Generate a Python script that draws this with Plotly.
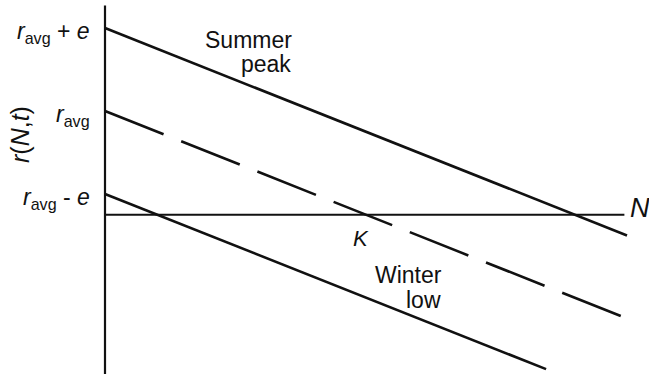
import plotly.graph_objects as go

# Per-capita growth rate r(N, t) against population size N:
# seasonal peak, average and seasonal low (parallel lines, shifted by e)
n_summer = [0.0, 2.0]
r_summer = [2.25, -0.25]
n_avg = [0.0, 2.0]
r_avg = [1.25, -1.25]
n_winter = [0.0, 1.69]
r_winter = [0.25, -1.86]

# axis extents
n_axis = [0.0, 1.99]
r_axis = [-1.92, 2.52]

# labels for the three intercepts
tick_vals = [2.25, 1.25, 0.25]
tick_text = [
    "<i>r</i><sub>avg</sub> + <i>e</i>",
    "<i>r</i><sub>avg</sub>",
    "<i>r</i><sub>avg</sub> - <i>e</i>",
]
K_value = 1.0

FONT = "Liberation Sans, Arial, Helvetica, sans-serif"
BLACK = "#111111"

fig = go.Figure()

# axes drawn as plain lines
fig.add_trace(go.Scatter(x=[0, 0], y=r_axis, mode="lines",
                         line=dict(color=BLACK, width=2.2), hoverinfo="skip"))
fig.add_trace(go.Scatter(x=n_axis, y=[0, 0], mode="lines",
                         line=dict(color=BLACK, width=2), hoverinfo="skip"))

fig.add_trace(go.Scatter(x=n_summer, y=r_summer, mode="lines",
                         line=dict(color=BLACK, width=2.6)))
fig.add_trace(go.Scatter(x=n_avg, y=r_avg, mode="lines",
                         line=dict(color=BLACK, width=2.6, dash="63px,19px")))
fig.add_trace(go.Scatter(x=n_winter, y=r_winter, mode="lines",
                         line=dict(color=BLACK, width=2.6)))

ann = []
for v, t in zip(tick_vals, tick_text):
    ann.append(dict(x=-0.05, y=v, xref="x", yref="y", text=t,
                    xanchor="right", yanchor="middle", yshift=-4,
                    showarrow=False, font=dict(size=23, family=FONT, color=BLACK)))

def label(text, xpx, ypx, size=23, anchor="right"):
    return dict(x=xpx, y=ypx, xref="paper", yref="paper", text=text,
                xanchor=anchor, yanchor="middle", showarrow=False,
                font=dict(size=size, family=FONT, color=BLACK))

W, H = 649, 374
def px(xp, yp):
    return xp / W, 1 - yp / H

sx, sy = px(294, 40)
ann.append(label("Summer", sx, sy))
sx, sy = px(293, 64)
ann.append(label("peak", sx, sy))
sx, sy = px(444, 275)
ann.append(label("Winter", sx, sy))
sx, sy = px(443, 300)
ann.append(label("low", sx, sy))
ann.append(dict(x=K_value, y=0, xref="x", yref="y", text="<i>K</i>",
                xanchor="center", yanchor="top", yshift=-9, xshift=-5,
                showarrow=False, font=dict(size=22, family=FONT, color=BLACK)))
ann.append(dict(x=n_axis[1], y=0, xref="x", yref="y", text="<i>N</i>",
                xanchor="left", yanchor="middle", xshift=4, yshift=7,
                showarrow=False, font=dict(size=27, family=FONT, color=BLACK)))
# vertical axis title
ann.append(dict(x=20 / W, y=1 - 135 / H, xref="paper", yref="paper",
                text="<i>r</i>(<i>N</i>,<i>t</i>)", textangle=-90,
                xanchor="center", yanchor="middle", showarrow=False,
                font=dict(size=25, family=FONT, color=BLACK)))

fig.update_layout(
    width=W, height=H,
    margin=dict(l=0, r=0, t=0, b=0),
    paper_bgcolor="white", plot_bgcolor="white",
    showlegend=False,
    annotations=ann,
    xaxis=dict(range=[-105 / 261, 544 / 261], visible=False, fixedrange=True),
    yaxis=dict(range=[-(374 - 214.75) / 83, 214.75 / 83], visible=False, fixedrange=True),
)

fig.write_html("out.html")
